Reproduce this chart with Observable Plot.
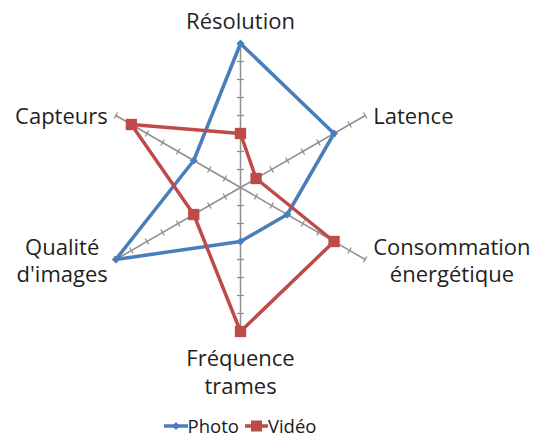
<!DOCTYPE html>
<html><head><meta charset="utf-8">
<script src="https://cdn.jsdelivr.net/npm/d3@7"></script>
<script src="https://cdn.jsdelivr.net/npm/@observablehq/plot@0.6"></script>
<style>
body{margin:0;background:#fff;font-family:'Open Sans',sans-serif;}
#legend{width:480px;display:flex;justify-content:center;gap:6px;font-size:18.5px;color:#1a1a1a;height:31px;align-items:center;}
#legend span.item{display:flex;align-items:center;}
</style>
</head><body><div id="chart"></div><div id="legend"></div>
<script>
const axes = ["Résolution", "Latence", "Consommation\nénergétique", "Fréquence\ntrames", "Qualité\nd'images", "Capteurs"];
const photo = [8, 6, 3, 3, 8, 3];
const video = [3, 1, 6, 8, 3, 7];
const seriesNames = ["Photo", "Vidéo"];
const seriesColors = ["#4A7EBB", "#BE4B48"];
const tickValues = [1, 2, 3, 4, 5, 6, 7, 8];
const maxValue = 8;

const W = 536, H = 410, cx = 240, cy = 187, R = 144;
const unit = R / maxValue;
const n = axes.length;
const ang = i => Math.PI / 2 - i * 2 * Math.PI / n;
const X = (v, i) => v * Math.cos(ang(i));
const Y = (v, i) => v * Math.sin(ang(i));

const seriesValues = [photo, video];
const rows = seriesNames.flatMap((s, k) => seriesValues[k].map((v, i) => ({series: s, i, value: v})));
const axisRows = axes.map((a, i) => ({axis: a, i}));
const tickHalf = 3.5 / unit;
const tickRows = axes.flatMap((a, i) => tickValues.map(t => ({i, t})));

const fontSize = 22;
const ctx = document.createElement("canvas").getContext("2d");
ctx.font = `${fontSize}px 'Open Sans'`;
const textW = s => Math.max(...s.split("\n").map(l => ctx.measureText(l).width));

const gap = 8;
const labelMarks = axes.map((a, i) => {
  const c = Math.cos(ang(i)), s = Math.sin(ang(i));
  const base = {x: () => X(maxValue, i), y: () => Y(maxValue, i), text: d => d, fontSize, fill: "#1f1f1f", lineHeight: 1.25, fontFamily: "'Open Sans'"};
  if (Math.abs(c) < 0.01) {
    return Plot.text([a], {...base, textAnchor: "middle", lineAnchor: s > 0 ? "bottom" : "top", dy: s > 0 ? -15 : 15});
  }
  return Plot.text([a], {...base, textAnchor: "middle", lineAnchor: "middle", dx: Math.sign(c) * (gap + textW(a) / 2)});
});

const chart = Plot.plot({
  width: W, height: H, margin: 0,
  x: {domain: [-cx / unit, (W - cx) / unit], range: [0, W], axis: null},
  y: {domain: [-(H - cy) / unit, cy / unit], range: [H, 0], axis: null},
  style: {fontFamily: "'Open Sans'", background: "#fff"},
  marks: [
    Plot.link(axisRows, {x1: 0, y1: 0, x2: d => X(maxValue, d.i), y2: d => Y(maxValue, d.i), stroke: "#8f8f8f", strokeWidth: 1.5}),
    Plot.link(tickRows, {
      x1: d => X(d.t, d.i) - Math.sin(ang(d.i)) * tickHalf,
      y1: d => Y(d.t, d.i) + Math.cos(ang(d.i)) * tickHalf,
      x2: d => X(d.t, d.i) + Math.sin(ang(d.i)) * tickHalf,
      y2: d => Y(d.t, d.i) - Math.cos(ang(d.i)) * tickHalf,
      stroke: "#8f8f8f", strokeWidth: 1.3}),
    ...seriesNames.map((s, k) => Plot.line(rows.filter(d => d.series === s), {
      x: d => X(d.value, d.i), y: d => Y(d.value, d.i), curve: "linear-closed",
      stroke: seriesColors[k], strokeWidth: 3.5, strokeLinejoin: "round"})),
    Plot.dot(rows.filter(d => d.series === seriesNames[0]), {x: d => X(d.value, d.i), y: d => Y(d.value, d.i), symbol: "diamond2", r: 3.6, fill: seriesColors[0]}),
    Plot.dot(rows.filter(d => d.series === seriesNames[1]), {x: d => X(d.value, d.i), y: d => Y(d.value, d.i), symbol: "square", r: 6.4, fill: seriesColors[1]}),
    ...labelMarks
  ]
});
document.getElementById("chart").appendChild(chart);

const legend = document.getElementById("legend");
seriesNames.forEach((s, k) => {
  const item = document.createElement("span");
  item.className = "item";
  const sw = k === 0
    ? `<svg width="24" height="14"><line x1="0" y1="7" x2="24" y2="7" stroke="${seriesColors[0]}" stroke-width="3.5"/><path d="M12,3 L16,7 L12,11 L8,7Z" fill="${seriesColors[0]}"/></svg>`
    : `<svg width="23" height="14"><line x1="0" y1="7" x2="23" y2="7" stroke="${seriesColors[1]}" stroke-width="3.5"/><rect x="6" y="1.5" width="11" height="11" fill="${seriesColors[1]}"/></svg>`;
  item.innerHTML = sw + `<span>${s}</span>`;
  legend.appendChild(item);
});
</script>
</body></html>
